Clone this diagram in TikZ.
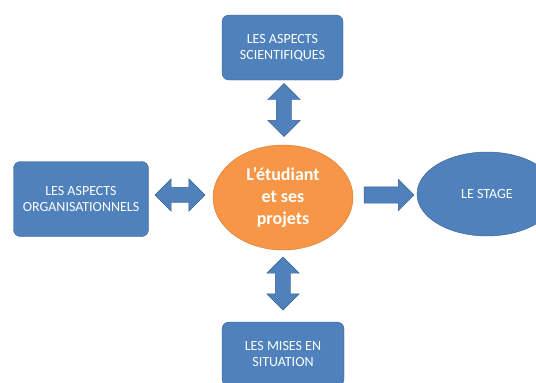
\documentclass[tikz,border=0pt]{standalone}
\usepackage{fontspec}
\setmainfont{Carlito}
\usetikzlibrary{shapes.geometric,shapes.arrows}
\definecolor{boxblue}{HTML}{4F81BD}
\definecolor{boxline}{HTML}{385D8A}
\definecolor{studorange}{HTML}{F79646}
\definecolor{studline}{HTML}{D9782F}
\begin{document}
\begin{tikzpicture}%
[x=1pt,y=-1pt,
every node/.style={draw=boxline,fill=boxblue,thin,text=white,align=center,
inner sep=0pt,font=\fontsize{14}{16}\selectfont},
aspect/.style={rectangle,rounded corners=7pt,minimum width=121pt,
minimum height=65pt},
arrowpair/.style={double arrow,minimum height=53pt,inner xsep=0pt,
inner ysep=7.5pt,double arrow head extend=8.5pt},
arrowone/.style={single arrow,minimum height=50pt,inner xsep=0pt,
inner ysep=8pt,single arrow head extend=7.5pt}]
\useasboundingbox (0,0) rectangle (536,383);
\node (scientifiques) at (282.5,47.5) [aspect] {LES ASPECTS\\SCIENTIFIQUES};
\node (organisation) at (81,199) [aspect, minimum width=135pt,
minimum height=75pt] {LES ASPECTS\\ORGANISATIONNELS};
\node (situation) at (283,354) [aspect, minimum width=122pt,
minimum height=64pt] {LES MISES EN\\SITUATION};
\node (etudiant) at (283,197.5) [ellipse, draw=studline, fill=studorange,
minimum width=140pt, minimum height=105pt,
font=\bfseries\fontsize{18}{22}\selectfont] {L’étudiant\\et ses\\projets};
\node (stage) at (487,194) [ellipse, minimum width=140pt,
minimum height=84pt] {LE STAGE};
\node (haut) at (284,110) [arrowpair, rotate=90] {};
\node (bas) at (283,283.5) [arrowpair, rotate=90] {};
\node (gauche) at (180,195) [arrowpair, minimum height=50pt] {};
\node (droite) at (385,195) [arrowone] {};
\end{tikzpicture}
\end{document}
